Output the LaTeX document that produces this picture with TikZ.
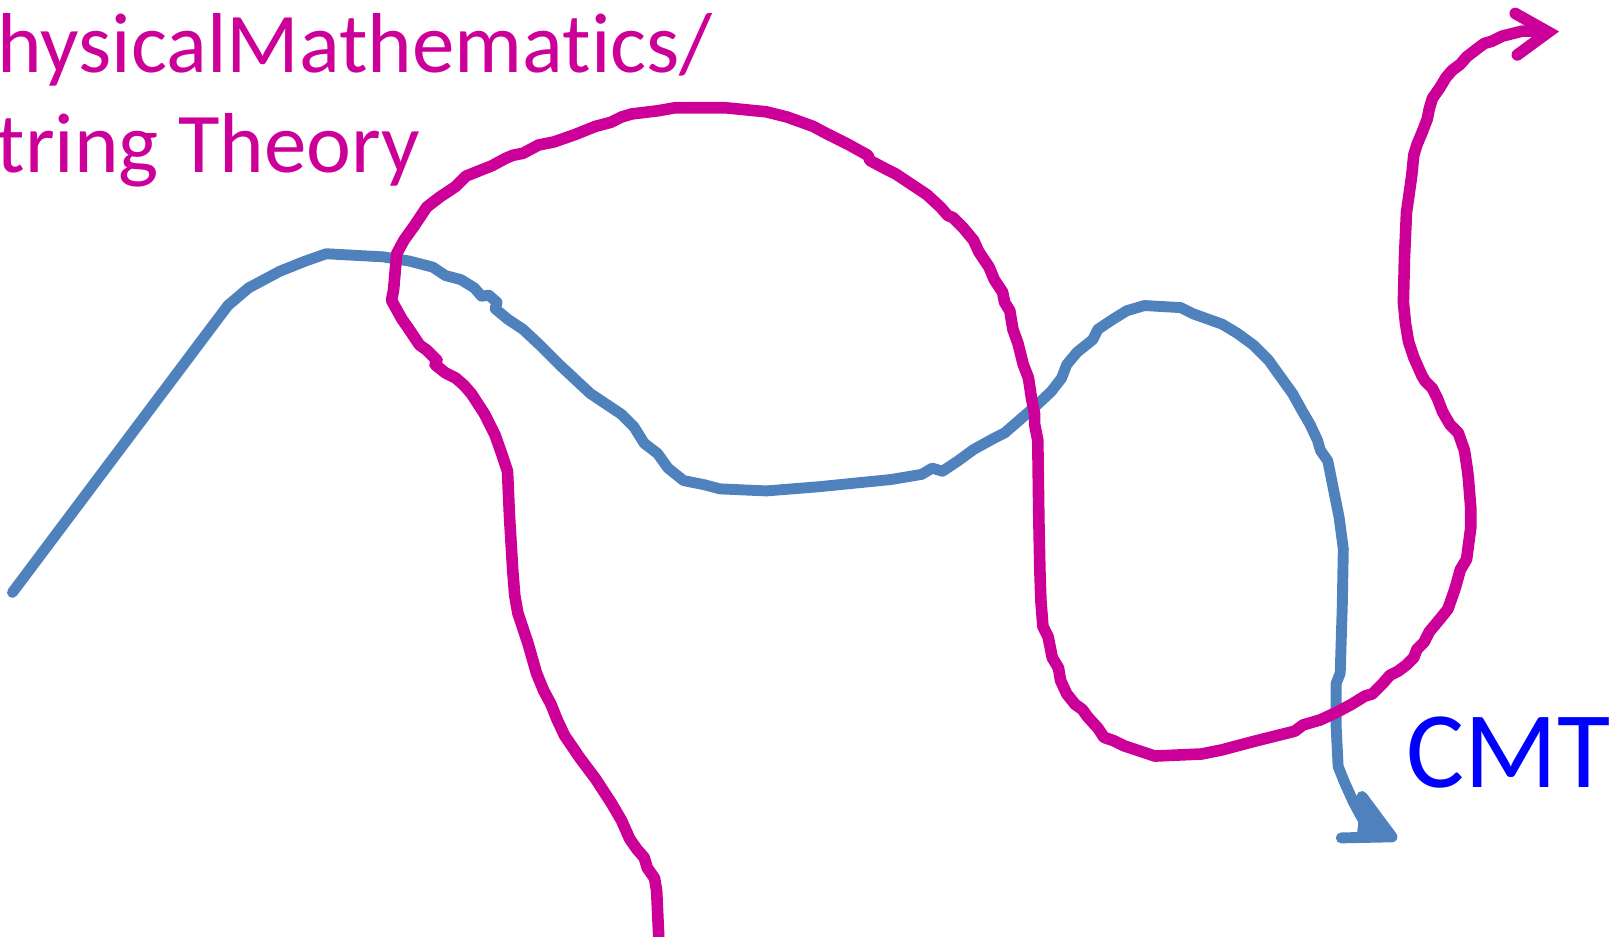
\documentclass[tikz,border=0pt]{standalone}
\usepackage{fontspec}
\setmainfont{Carlito}[Ligatures={NoCommon}]
\usetikzlibrary{calc}
\definecolor{berry}{HTML}{CC0099}
\definecolor{steel}{HTML}{4F81BD}
\definecolor{cmtblue}{HTML}{0000FF}
\tikzset{pmline/.style={berry,line width=3.3pt,line join=round,line cap=round},
  cmline/.style={steel,line width=3.1pt,line join=round,line cap=round}}

\begin{document}
\begin{tikzpicture}[x=0.010357cm,y=-0.010357cm]
\useasboundingbox (0,0) rectangle (1568,904);
% labels
\node[berry,anchor=base west,inner sep=0,font=\fontsize{24.2}{28}\selectfont] (physmath) at (-3,70){hysicalMathematics/};
\node[berry,anchor=base west,inner sep=0,font=\fontsize{24.2}{28}\selectfont] (strth) at (-4,167){tring Theory};
\node[cmtblue,anchor=base west,inner sep=0,font=\fontsize{31}{36}\selectfont] (cmt) at (1357,760){CMT};
% blue line (CMT)
\draw[cmline] plot coordinates {(12,572) (220,295) (240,278) (270,262) (295,252) (315,245) (370,248) (395,252) (418,258) (430,266) (445,270) (458,278) (465,286) (472,285) (480,292) (478,298) (490,308) (505,318) (520,332) (540,352) (555,366) (570,380) (588,392) (600,400) (612,412) (622,428) (635,438) (645,452) (660,464) (680,468) (695,472) (740,474) (790,470) (830,466) (860,463) (890,458) (900,452) (910,455) (925,445) (940,434) (960,423) (970,418) (985,405) (1000,392) (1015,378) (1025,365) (1030,352) (1040,340) (1055,328) (1060,318) (1075,308) (1088,300) (1105,295) (1140,297) (1152,303) (1180,313) (1195,322) (1210,333) (1225,348) (1235,362) (1248,380) (1258,398) (1265,410) (1272,425) (1275,435) (1282,445) (1287,470) (1293,500) (1297,530) (1296,585) (1294,650) (1290,660) (1290,700) (1292,740) (1298,755) (1307,775) (1318,795) (1330,806)};
\fill[steel] (1315,769)--(1344,808)--(1310,807)--(1312,790)--cycle;
\draw[cmline] (1315,769)--(1344,808)--(1295,809);
% magenta line (physical maths / string theory)
\draw[pmline] plot coordinates {(636,904) (634,860) (632,848) (625,838) (622,828) (615,820) (608,810) (600,792) (590,775) (575,752) (560,732) (545,710) (538,695) (532,680) (525,667) (518,650) (510,622) (500,592) (497,575) (495,550) (492,500) (490,455) (485,440) (478,420) (468,400) (455,380) (448,372) (440,365) (430,360) (420,352) (422,348) (412,338) (405,333) (395,318) (388,308) (378,290) (380,280) (383,245) (390,232) (400,218) (412,200) (425,190) (440,180) (450,170) (460,166) (475,160) (488,153) (495,150) (505,148) (520,140) (535,137) (555,130) (575,122) (590,118) (600,113) (610,110) (635,107) (652,104) (700,104) (740,108) (760,113) (785,122) (800,130) (820,140) (838,150) (840,155) (855,163) (865,168) (880,178) (895,188) (908,200) (915,208) (920,210) (930,220) (940,232) (945,243) (955,258) (960,270) (968,282) (970,292) (975,300) (978,318) (983,332) (988,352) (993,365) (996,385) (999,400) (999,410) (1002,425) (1003,500) (1004,550) (1005,580) (1007,605) (1012,615) (1016,635) (1022,645) (1024,657) (1030,670) (1038,680) (1045,685) (1050,692) (1060,703) (1066,712) (1075,715) (1085,720) (1100,725) (1115,730) (1160,728) (1180,724) (1210,716) (1250,706) (1258,700) (1275,695) (1290,688) (1305,680) (1318,672) (1325,670) (1335,660) (1342,652) (1350,648) (1358,642) (1365,635) (1368,627) (1375,620) (1380,610) (1390,598) (1398,588) (1405,568) (1410,550) (1416,540) (1420,510) (1420,490) (1418,465) (1417,455) (1414,435) (1408,418) (1400,410) (1393,398) (1388,385) (1383,375) (1376,368) (1373,363) (1365,345) (1360,330) (1357,312) (1355,292) (1356,250) (1358,205) (1363,170) (1365,150) (1368,140) (1373,128) (1378,115) (1380,105) (1383,95) (1390,85) (1396,75) (1402,68) (1410,62) (1416,55) (1425,48) (1433,42) (1440,40) (1450,35) (1470,30) (1490,30)};
\draw[pmline,line join=miter] (1463,13)--(1495,31)--(1465,53);
\end{tikzpicture}
\end{document}
